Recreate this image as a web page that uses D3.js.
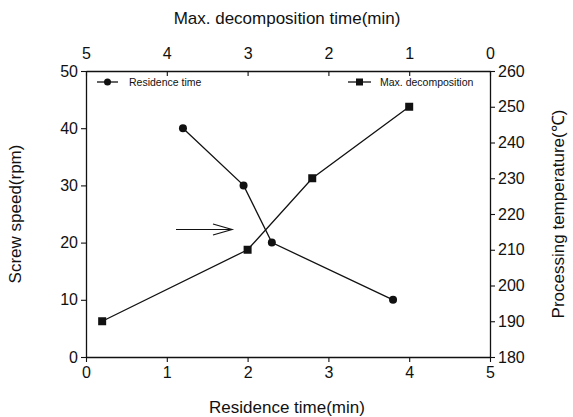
<!DOCTYPE html>
<html><head><meta charset="utf-8">
<script src="https://cdn.jsdelivr.net/npm/d3@7"></script>
<style>body{margin:0;background:#fff}svg{display:block}text{font-family:"Liberation Sans",Arial,sans-serif;fill:#111}</style>
</head><body><svg id="c" width="573" height="417"></svg>
<script>
// Residence time series (bottom x, left y)
const residenceTime = [1.2, 1.95, 2.3, 3.8];
const screwSpeed = [40, 30, 20, 10];
// Max decomposition series (top x, right y)
const decompTime = [4.8, 3.0, 2.2, 1.0];
const procTemp = [190, 210, 230, 250];
const bottomTicks = [0,1,2,3,4,5];
const topTicks = [5,4,3,2,1,0];
const leftTicks = [0,10,20,30,40,50];
const rightTicks = [180,190,200,210,220,230,240,250,260];

const svg = d3.select("#c");
const L=86, R=490, T=71, B=357;
const x = d3.scaleLinear().domain([0,5]).range([L,R]);
const xt = d3.scaleLinear().domain([5,0]).range([L,R]);
const y = d3.scaleLinear().domain([0,50]).range([B,T]);
const yr = d3.scaleLinear().domain([180,260]).range([B,T]);
const col="#111";
const fmt = d3.format("d");

function style(g, fs){
  g.select(".domain").attr("stroke",col).attr("stroke-width",1.3);
  g.selectAll(".tick line").attr("stroke",col).attr("stroke-width",1.1);
  g.selectAll(".tick text").attr("font-size",fs).attr("fill",col).style("font-family","Liberation Sans, Arial, sans-serif");
}
const gb = svg.append("g").attr("transform",`translate(0,${B})`)
  .call(d3.axisBottom(x).tickValues(bottomTicks).tickFormat(fmt).tickSize(5).tickSizeOuter(0).tickPadding(5));
style(gb,16);
const gt = svg.append("g").attr("transform",`translate(0,${T})`)
  .call(d3.axisTop(xt).tickValues(topTicks).tickFormat(fmt).tickSize(-5).tickSizeOuter(0).tickPadding(12));
style(gt,16);
const gl = svg.append("g").attr("transform",`translate(${L},0)`)
  .call(d3.axisLeft(y).tickValues(leftTicks).tickFormat(fmt).tickSize(5).tickSizeOuter(0).tickPadding(3));
style(gl,16);
const gr = svg.append("g").attr("transform",`translate(${R},0)`)
  .call(d3.axisRight(yr).tickValues(rightTicks).tickFormat(fmt).tickSize(5).tickSizeOuter(0).tickPadding(3));
style(gr,16);

// titles
svg.append("text").attr("x",287).attr("y",24).attr("text-anchor","middle").attr("font-size",17).text("Max. decomposition time(min)");
svg.append("text").attr("x",287).attr("y",413).attr("text-anchor","middle").attr("font-size",17).text("Residence time(min)");
svg.append("text").attr("transform","translate(21,214) rotate(-90)").attr("text-anchor","middle").attr("font-size",17).text("Screw speed(rpm)");
svg.append("text").attr("transform","translate(564,214) rotate(-90)").attr("text-anchor","middle").attr("font-size",17).text("Processing temperature(℃)");

// residence series
const res = residenceTime.map((d,i)=>({x:d,y:screwSpeed[i]}));
svg.append("path").datum(res).attr("fill","none").attr("stroke",col).attr("stroke-width",1.3)
  .attr("d",d3.line().x(d=>x(d.x)).y(d=>y(d.y)));
svg.selectAll(".c").data(res).enter().append("circle").attr("cx",d=>x(d.x)).attr("cy",d=>y(d.y)).attr("r",4).attr("fill",col);

// decomposition series
const dec = decompTime.map((d,i)=>({x:d,y:procTemp[i]}));
svg.append("path").datum(dec).attr("fill","none").attr("stroke",col).attr("stroke-width",1.3)
  .attr("d",d3.line().x(d=>xt(d.x)).y(d=>yr(d.y)));
svg.selectAll(".s").data(dec).enter().append("rect").attr("x",d=>xt(d.x)-4).attr("y",d=>yr(d.y)-4).attr("width",8).attr("height",8).attr("fill",col);

// legend
const lg = svg.append("g");
lg.append("line").attr("x1",97).attr("x2",118).attr("y1",82).attr("y2",82).attr("stroke",col).attr("stroke-width",1.3);
lg.append("circle").attr("cx",107.5).attr("cy",82).attr("r",3.5).attr("fill",col);
lg.append("text").attr("x",129).attr("y",86).attr("font-size",10.5).text("Residence time");
lg.append("line").attr("x1",348).attr("x2",371).attr("y1",82).attr("y2",82).attr("stroke",col).attr("stroke-width",1.3);
lg.append("rect").attr("x",356).attr("y",78.5).attr("width",7).attr("height",7).attr("fill",col);
lg.append("text").attr("x",380).attr("y",86).attr("font-size",10.5).text("Max. decomposition");

// arrow
const ar = svg.append("g").attr("stroke",col).attr("stroke-width",1.2).attr("fill","none");
ar.append("line").attr("x1",176).attr("x2",232).attr("y1",229.5).attr("y2",229.5);
ar.append("path").attr("d","M213,224 L232,229.5 L213,235");
</script></body></html>
